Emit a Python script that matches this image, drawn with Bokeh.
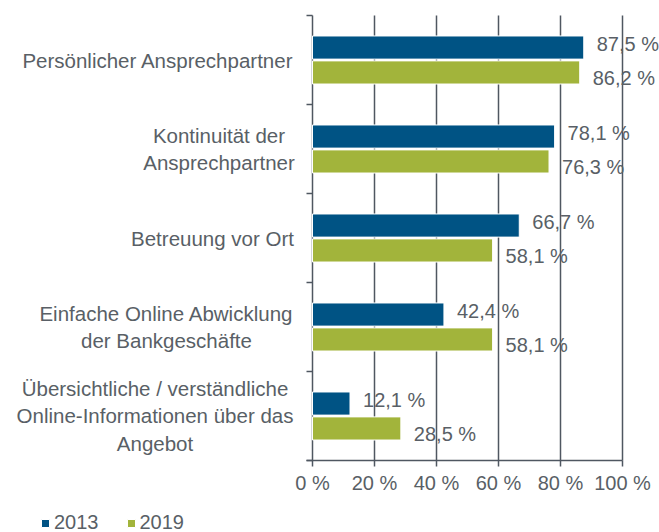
import numpy as np
from bokeh.plotting import figure
from bokeh.models import Range1d, ColumnDataSource, Legend, LegendItem
from bokeh.core.properties import value
from bokeh.embed import file_html
from bokeh.resources import INLINE

categories = [
    "Persönlicher Ansprechpartner",
    "Kontinuität der\nAnsprechpartner",
    "Betreuung vor Ort",
    "Einfache Online Abwicklung\nder Bankgeschäfte",
    "Übersichtliche / verständliche\nOnline-Informationen über das\nAngebot",
]
values_2013 = [87.5, 78.1, 66.7, 42.4, 12.1]
values_2019 = [86.2, 76.3, 58.1, 58.1, 28.5]
series_names = ["2013", "2019"]
x_ticks = [0, 20, 40, 60, 80, 100]
x_tick_labels = ["0 %", "20 %", "40 %", "60 %", "80 %", "100 %"]

# ---- layout / style ----
FONT = "Liberation Sans"
TEXT = "#595f66"
LINE = "#4f5761"
BLUE = "#005384"
GREEN = "#a2b43b"
W, H = 659, 532
PX_ZERO = 312          # canvas x of the 0 % line
PX_PER_UNIT = 3.1      # pixels per percent
PX_TOP = 15            # canvas y of the top of the category area
PX_PER_CAT = 89        # pixels per category band
TICK = 6               # tick length, px
label_centers_px = [157.5, 218.5, 212, 166, 154.5]  # canvas x centre of each category text block

n = len(categories)
x_range = Range1d(-PX_ZERO / PX_PER_UNIT, (W - PX_ZERO) / PX_PER_UNIT)
y_range = Range1d((H - PX_TOP) / PX_PER_CAT, -PX_TOP / PX_PER_CAT)  # flipped: first category on top
tick_x = TICK / PX_PER_UNIT
tick_y = TICK / PX_PER_CAT

centers = np.arange(n) + 0.5
dodge = 0.14
bar_h = 0.26

p = figure(width=W, height=H, output_backend="svg", toolbar_location=None,
           x_range=x_range, y_range=y_range, min_border=0)
p.axis.visible = False
p.grid.visible = False
p.outline_line_color = None
p.background_fill_color = "white"
p.border_fill_color = "white"

def fmt(v):
    return f"{v:.1f}".replace(".", ",") + " %"

# vertical grid lines (value axis), 0 % line doubles as category axis line
p.segment(x0=x_ticks, x1=x_ticks, y0=0, y1=n, line_color=LINE, line_width=1.5)
# value axis line + ticks
p.segment(x0=-tick_x, x1=x_ticks[-1], y0=n, y1=n, line_color=LINE, line_width=1.5)
p.segment(x0=x_ticks, x1=x_ticks, y0=n, y1=n + tick_y, line_color=LINE, line_width=1.5)
# category boundary ticks
bounds = np.arange(n + 1)
p.segment(x0=-tick_x, x1=0, y0=bounds, y1=bounds, line_color=LINE, line_width=1.5)
# value axis tick labels
p.text(x=x_ticks, y=[n] * len(x_ticks), text=x_tick_labels, y_offset=22,
       text_font=value(FONT), text_font_size="20px", text_color=TEXT,
       text_align="center", text_baseline="middle")

src13 = ColumnDataSource(dict(y=centers - dodge, v=values_2013, t=[fmt(v) for v in values_2013]))
src19 = ColumnDataSource(dict(y=centers + dodge, v=values_2019, t=[fmt(v) for v in values_2019]))

r13 = p.hbar(y="y", right="v", left=0, height=bar_h, source=src13,
             fill_color=BLUE, line_color="white", line_width=1)
r19 = p.hbar(y="y", right="v", left=0, height=bar_h, source=src19,
             fill_color=GREEN, line_color="white", line_width=1)

for src, yoff in ((src13, -4), (src19, 6)):
    p.text(x="v", y="y", text="t", source=src, x_offset=13, y_offset=yoff,
           text_font=value(FONT), text_font_size="20px", text_color=TEXT,
           text_baseline="middle", text_align="left")

# category labels
cat_src = ColumnDataSource(dict(
    x=[(cx - PX_ZERO) / PX_PER_UNIT for cx in label_centers_px], y=centers, t=categories))
p.text(x="x", y="y", text="t", source=cat_src, text_font=value(FONT), text_font_size="20.5px",
       text_color=TEXT, text_align="center", text_baseline="middle", text_line_height=1.2)

legend = Legend(items=[LegendItem(label=series_names[0], renderers=[r13]),
                       LegendItem(label=series_names[1], renderers=[r19])],
                orientation="horizontal", location=(40, -2),
                glyph_width=10, glyph_height=10, label_standoff=4, spacing=27,
                padding=0, margin=0, border_line_color=None,
                background_fill_alpha=0,
                label_text_font=FONT, label_text_font_size="20px", label_text_color=TEXT)
p.add_layout(legend, "center")

open("out.html", "w").write(file_html(p, INLINE))
